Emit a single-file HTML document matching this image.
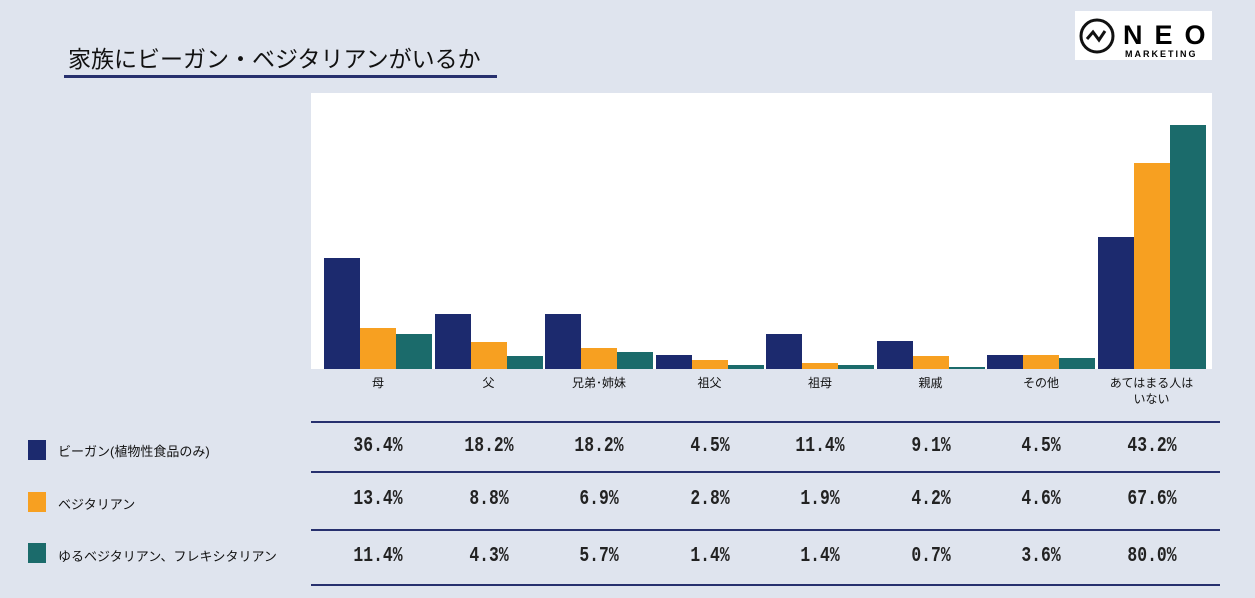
<!DOCTYPE html>
<html><head><meta charset="utf-8"><style>
body{margin:0;width:1255px;height:598px;background:#dfe4ee;position:relative;overflow:hidden;font-family:"Liberation Sans","Noto Sans CJK JP",sans-serif;color:#111}
.a{position:absolute}
.title{left:68px;top:40px;font-size:23px;letter-spacing:0px}
.uline{left:64px;top:75px;width:433px;height:3px;background:#27306e}
.chart{left:311px;top:93px;width:901px;height:276px;background:#fff}
.bar{position:absolute;bottom:0}
.cat{position:absolute;top:375px;width:110px;text-align:center;font-size:12px;line-height:16px}
.hl{position:absolute;left:311px;width:909px;height:1.5px;background:#27306e}
.v{position:absolute;width:110px;text-align:center;font-family:"Liberation Mono",monospace;font-weight:bold;font-size:21px;transform:scaleX(0.78);color:#222}
.lg{position:absolute;left:28px;width:18px;height:20px}
.lt{position:absolute;left:58px;font-size:13px}
</style></head><body>
<div class="a title">家族にビーガン・ベジタリアンがいるか</div>
<div class="a uline"></div>
<div class="a" style="left:1075px;top:11px;width:137px;height:49px;background:#fff">
<svg width="137" height="49"><circle cx="22" cy="25" r="16" fill="none" stroke="#111" stroke-width="3"/><polyline points="12,28 18,21 24,29 30,20" fill="none" stroke="#111" stroke-width="3"/>
<text x="48" y="33" font-family="Liberation Sans" font-weight="bold" font-size="27" letter-spacing="12">NEO</text>
<text x="50" y="46" font-family="Liberation Sans" font-weight="bold" font-size="9" letter-spacing="2">MARKETING</text></svg></div>
<div class="a chart" id="c"></div>
<div id="t"></div>
<div class="lg" style="top:440px;background:#1c2a6e"></div><div class="lt" style="top:441px">ビーガン(植物性食品のみ)</div>
<div class="lg" style="top:492px;background:#f7a021"></div><div class="lt" style="top:494px">ベジタリアン</div>
<div class="lg" style="top:543px;background:#1b6b6b"></div><div class="lt" style="top:546px">ゆるベジタリアン、フレキシタリアン</div>
<script>
var cats=["母","父","兄弟･姉妹","祖父","祖母","親戚","その他","あてはまる人は<br>いない"];
var d=[[36.4,18.2,18.2,4.5,11.4,9.1,4.5,43.2],[13.4,8.8,6.9,2.8,1.9,4.2,4.6,67.6],[11.4,4.3,5.7,1.4,1.4,0.7,3.6,80.0]];
var col=["#1c2a6e","#f7a021","#1b6b6b"],c=document.getElementById('c'),h='',t='';
for(var i=0;i<8;i++){var x=13+i*110.5;
for(var s=0;s<3;s++)h+='<div class="bar" style="left:'+(x+s*36)+'px;width:36px;height:'+(d[s][i]*3.05)+'px;background:'+col[s]+'"></div>';
t+='<div class="cat" style="left:'+(x+311-1)+'px">'+cats[i]+'</div>';
var tops=[435,488,545];
for(var s=0;s<3;s++)t+='<div class="v" style="left:'+(x+311-1)+'px;top:'+tops[s]+'px">'+d[s][i].toFixed(1)+'%</div>';}
[421,471,529,584].forEach(function(y){t+='<div class="hl" style="top:'+y+'px"></div>'});
c.innerHTML=h;document.getElementById('t').innerHTML=t;
</script>
</body></html>
